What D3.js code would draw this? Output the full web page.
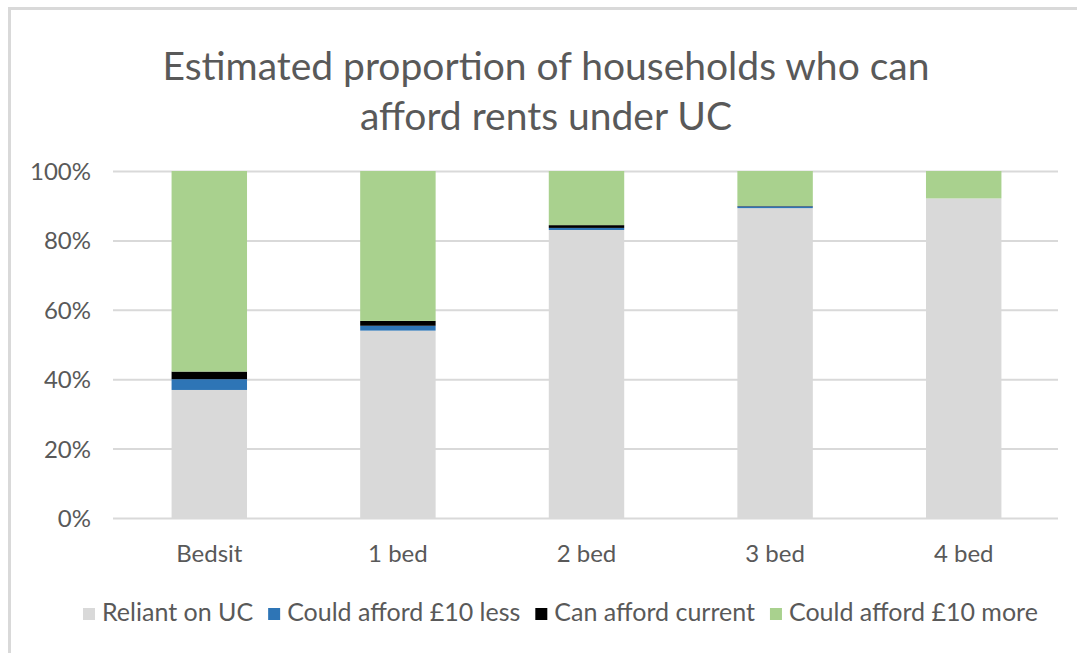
<!DOCTYPE html>
<html>
<head>
<meta charset="utf-8">
<script src="https://cdn.jsdelivr.net/npm/d3@7"></script>
<style>
  body { margin: 0; background: #fff; }
  text { font-family: Lato, "Open Sans", sans-serif; fill: #595959; }
</style>
</head>
<body>
<div id="chart"></div>
<script>
// data
const categories = ['Bedsit', '1 bed', '2 bed', '3 bed', '4 bed'];
const seriesNames = ['Reliant on UC', 'Could afford £10 less', 'Can afford current', 'Could afford £10 more'];
const reliant = [36.9, 54.0, 83.0, 89.3, 92.1];
const tenLess = [3.1, 1.4, 0.6, 0.5, 0];
const current = [2.2, 1.4, 0.8, 0.1, 0];
const tenMore = [57.8, 43.2, 15.6, 10.1, 7.9];
const yTicks = [0, 20, 40, 60, 80, 100];
const colors = ['#d9d9d9', '#2e75b6', '#000000', '#a9d18e'];

const width = 1077, height = 653;

const svg = d3.select('#chart')
  .append('svg')
  .attr('width', width)
  .attr('height', height)

// chart border
svg.append('rect')
  .attr('x', 9.5)
  .attr('y', 8.5)
  .attr('width', 1100)
  .attr('height', 700)
  .attr('fill', 'none')
  .attr('stroke', '#d9d9d9')
  .attr('stroke-width', 3)

// title
const title = svg.append('text')
  .attr('text-anchor', 'middle')
  .style('font-size', '39px')
title.append('tspan').attr('x', 546).attr('y', 80).text('Estimated proportion of households who can')
title.append('tspan').attr('x', 546).attr('y', 130).text('afford rents under UC')

const x = d3.scaleBand()
  .domain(categories)
  .range([115, 1058])
  .paddingInner(0.6)
  .paddingOuter(0.3)

const y = d3.scaleLinear()
  .domain([0, 100])
  .range([518, 171])

// gridlines + y labels
const yAxis = svg.append('g')
  .attr('transform', 'translate(113,0)')
  .call(d3.axisLeft(y).tickValues(yTicks).tickFormat(d => d + '%').tickSize(-945).tickPadding(22))
yAxis.select('.domain').remove()
yAxis.selectAll('line').attr('stroke', '#d9d9d9').attr('stroke-width', 2)
yAxis.selectAll('text').style('font-size', '24px').attr('fill', '#595959').attr('dy', '0.35em')

// stacked bars
const table = categories.map((c, i) => ({
  cat: c, s0: reliant[i], s1: tenLess[i], s2: current[i], s3: tenMore[i]
}))
const stack = d3.stack().keys(['s0', 's1', 's2', 's3'])
const layers = stack(table)

svg.append('g')
  .selectAll('g')
  .data(layers)
  .enter()
  .append('g')
  .attr('fill', (d, i) => colors[i])
  .selectAll('rect')
  .data(d => d)
  .enter()
  .append('rect')
  .attr('x', d => x(d.data.cat))
  .attr('width', x.bandwidth())
  .attr('y', d => y(d[1]))
  .attr('height', d => y(d[0]) - y(d[1]))

// x labels
svg.append('g')
  .selectAll('text')
  .data(categories)
  .enter()
  .append('text')
  .attr('x', d => x(d) + x.bandwidth() / 2)
  .attr('y', 562)
  .attr('text-anchor', 'middle')
  .style('font-size', '24px')
  .text(d => d)

// legend
const legend = svg.append('g')
let lx = 83
seriesNames.forEach((name, i) => {
  const item = legend.append('g')
  item.append('rect')
    .attr('x', lx)
    .attr('y', 608)
    .attr('width', 12)
    .attr('height', 12)
    .attr('fill', colors[i])
  const t = item.append('text')
    .attr('x', lx + 19)
    .attr('y', 621)
    .style('font-size', '25px')
    .text(name)
  lx += 19 + t.node().getComputedTextLength() + 15
})
</script>
</body>
</html>
